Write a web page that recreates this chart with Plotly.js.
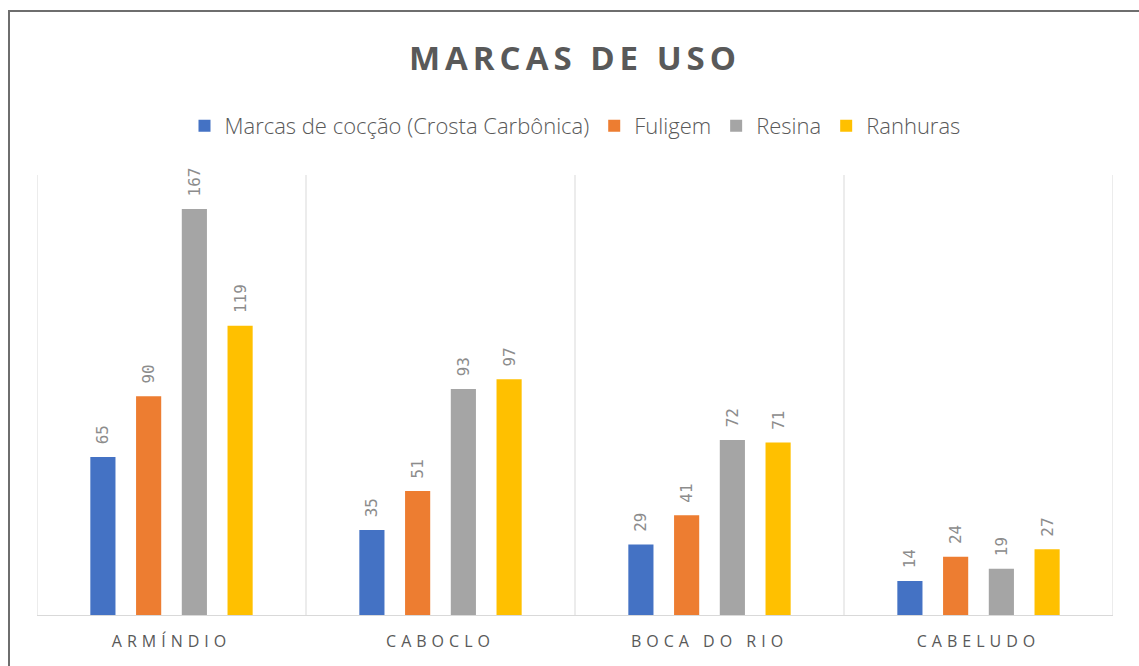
<!DOCTYPE html>
<html>
<head>
<meta charset="utf-8">
<script src="https://cdn.plot.ly/plotly-3.0.1.min.js"></script>
<style>
  html, body { margin: 0; padding: 0; background: #fff; }
  #wrap { position: relative; width: 1139px; height: 666px; overflow: hidden; }
  #chart { width: 1139px; height: 666px; }
  #frame { position: absolute; left: 8px; top: 10px; width: 1200px; height: 700px;
           border-left: 2px solid #6e6e6e; border-top: 2px solid #6e6e6e; pointer-events: none; }
  .xtick text { letter-spacing: 5px; }
  .gtitle { letter-spacing: 5px; }
</style>
</head>
<body>
<div id="wrap">
  <div id="chart"></div>
  <div id="frame"></div>
</div>
<script>
const categories = ["ARMÍNDIO", "CABOCLO", "BOCA DO RIO", "CABELUDO"];
const seriesNames = ["Marcas de cocção (Crosta Carbônica)", "Fuligem", "Resina", "Ranhuras"];
const coccao = [65, 35, 29, 14];
const fuligem = [90, 51, 41, 24];
const resina = [167, 93, 72, 19];
const ranhuras = [119, 97, 71, 27];
const seriesValues = [coccao, fuligem, resina, ranhuras];
const colors = ["#4472C4", "#ED7D31", "#A5A5A5", "#FFC000"];

const traces = seriesValues.map((vals, i) => ({
  type: "bar",
  name: seriesNames[i],
  x: categories,
  y: vals,
  marker: { color: colors[i] },
  texttemplate: "\u00a0%{y}",
  textposition: "outside",
  textangle: -90,
  constraintext: "none",
  cliponaxis: false,
  textfont: { family: "DejaVu Sans Mono, monospace", size: 16, color: "#8c8c8c" },
  hoverinfo: "x+y+name"
}));

const shapes = [];
for (let i = 0; i <= categories.length; i++) {
  shapes.push({
    type: "line", xref: "x", yref: "paper",
    x0: i - 0.5, x1: i - 0.5, y0: 0, y1: 1,
    line: { color: "#d9d9d9", width: 1 }
  });
}

const layout = {
  width: 1139, height: 666,
  margin: { l: 37, r: 26, t: 175, b: 51 },
  paper_bgcolor: "#ffffff",
  plot_bgcolor: "#ffffff",
  barmode: "group",
  bargap: 0.32,
  bargroupgap: 0.45,
  showlegend: true,
  title: {
    text: "MARCAS DE USO",
    x: 0.5, xref: "paper", xanchor: "center",
    y: 1 - 58 / 666, yref: "container", yanchor: "middle",
    font: { family: "Open Sans, sans-serif", size: 33, weight: 700, color: "#595959" }
  },
  legend: {
    orientation: "h",
    x: 0.5, xanchor: "center", xref: "paper",
    y: 1 - 126 / 666, yref: "container", yanchor: "middle",
    font: { family: "Open Sans, sans-serif", size: 22, weight: 300, color: "#595959" },
    itemwidth: 30,
    traceorder: "normal"
  },
  xaxis: {
    type: "category",
    range: [-0.5, categories.length - 0.5],
    showgrid: false,
    showline: true,
    linecolor: "#d9d9d9",
    linewidth: 1,
    ticks: "",
    tickfont: { family: "Open Sans, sans-serif", size: 16, weight: 400, color: "#595959" },
    ticklabelstandoff: 12,
    fixedrange: true
  },
  yaxis: {
    range: [0, 181],
    visible: false,
    showgrid: false,
    zeroline: false,
    fixedrange: true
  },
  shapes: shapes
};

Plotly.newPlot("chart", traces, layout, { displayModeBar: false, staticPlot: true });
</script>
</body>
</html>
